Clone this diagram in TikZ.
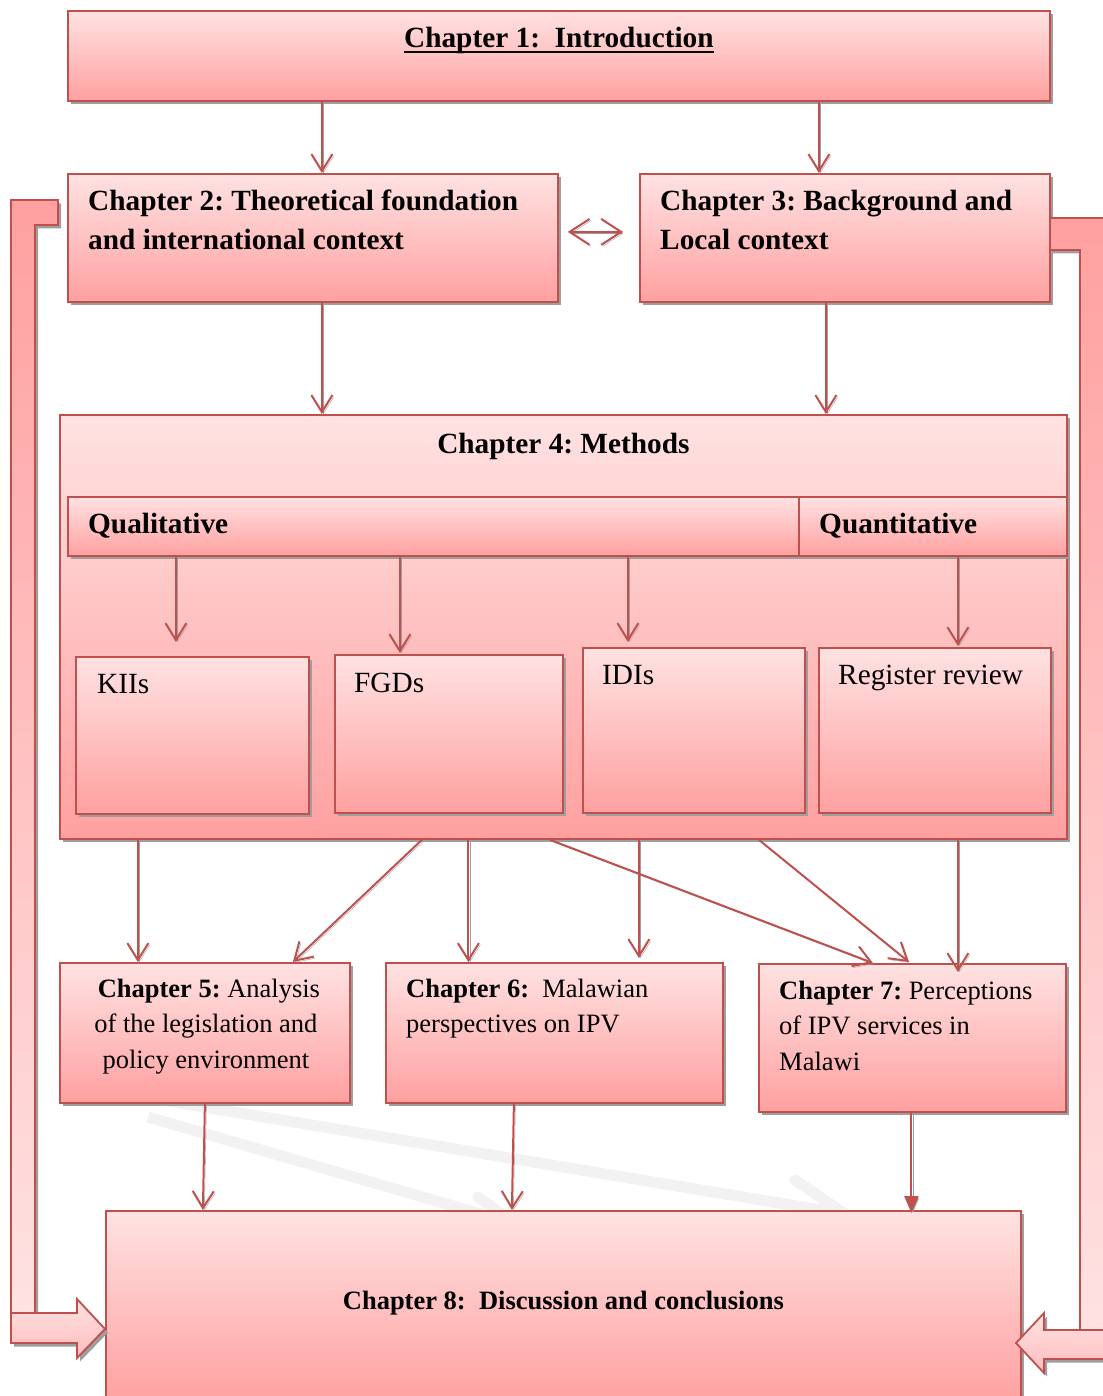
\documentclass[tikz,border=0pt]{standalone}
\usepackage{fontspec}
\setmainfont{Liberation Serif}
\usetikzlibrary{arrows.meta,shadows,calc}
\frenchspacing
\definecolor{edge}{RGB}{192,80,77}
\definecolor{pinkA}{RGB}{255,226,226}
\definecolor{pinkB}{RGB}{255,160,160}
\definecolor{pinkC}{RGB}{255,188,188}
\definecolor{shadowgray}{RGB}{158,158,158}
\definecolor{ghost}{RGB}{242,242,242}
\newcommand\bigf{\fontsize{29.3}{39}\selectfont}
\newcommand\medf{\fontsize{26.5}{35.5}\selectfont}
\tikzset{
  box/.style={rectangle, draw=edge, line width=1.8pt, top color=pinkA, bottom color=pinkB,
    inner sep=0pt, anchor=north west,
    drop shadow={shadow xshift=3pt, shadow yshift=-3.5pt, fill=shadowgray, opacity=1}},
  size/.style 2 args={minimum width=#1pt, minimum height=#2pt},
  txt/.style={inner sep=0pt, anchor=base west, text=black},
  conn/.style={draw=edge, line width=2pt,
    -{Straight Barb[length=17pt,width=21pt]},
    preaction={draw=shadowgray, transform canvas={shift={(1.5pt,-1.5pt)}}}},
  connfill/.style={draw=edge, line width=2pt,
    -{Triangle[length=17pt,width=14pt]},
    preaction={draw=shadowgray, transform canvas={shift={(1.5pt,-1.5pt)}}}},
  bothways/.style={draw=edge, line width=2pt,
    {Straight Barb[length=20pt,width=26pt]}-{Straight Barb[length=20pt,width=26pt]},
    preaction={draw=shadowgray, transform canvas={shift={(1.5pt,-1.5pt)}}}},
  bent/.style={draw=edge, line width=1.8pt,
    drop shadow={shadow xshift=3pt, shadow yshift=-3.5pt, fill=shadowgray, opacity=1}},
  ghostline/.style={draw=ghost, line width=11pt},
}
\begin{document}
\begin{tikzpicture}[x=1pt,y=-1pt]
\useasboundingbox (0,0) rectangle (1102,1396);

% faint background arrows
\coordinate (g1a) at (148,1117);
\coordinate (g1b) at (515,1224);
\coordinate (g1c) at (478,1197);
\coordinate (g2a) at (150,1098);
\coordinate (g2b) at (845,1214);
\coordinate (g2c) at (795,1180);
\draw[ghostline] (g1a) -- (g1b);
\draw[ghostline, line cap=round] (g1c) -- (g1b);
\draw[ghostline] (g2a) -- (g2b);
\draw[ghostline, line cap=round] (g2c) -- (g2b);

% chapter boxes
\node[box, size={982}{90}] (ch1) at (67,10) {};
\node[box, size={490}{128}] (ch2) at (67,173) {};
\node[box, size={410}{128}] (ch3) at (639,173) {};
\node[box, size={1007}{424}] (ch4) at (59,414) {};
\node[box, size={731}{59}] (qual) at (67,496) {};
\node[box, size={268}{59}] (quant) at (798,496) {};
\node[box, size={233}{157}] (kii) at (75,656) {};
\node[box, size={228}{158}] (fgd) at (334,654) {};
\node[box, size={222}{165}] (idi) at (582,647) {};
\node[box, size={232}{165}] (reg) at (818,647) {};
\node[box, size={290}{140}] (ch5) at (59,962) {};
\node[box, size={337}{140}] (ch6) at (385,962) {};
\node[box, size={307}{148}] (ch7) at (758,963) {};
\node[box, size={915}{190}] (ch8) at (105,1210) {};

% texts
\node[txt, anchor=base] (ch1t) at ($(ch1.north)+(0,38)$) {\bigf\bfseries Chapter 1:~~Introduction};
\draw[line width=1.6pt] ($(ch1t.base west)+(0,4)$) -- ($(ch1t.base east)+(0,4)$);
\node[txt] (ch2t) at ($(ch2.north west)+(21,38)$)
  {\bigf\bfseries\begin{tabular}[t]{@{}l@{}}Chapter 2: Theoretical foundation\\ and international context\end{tabular}};
\node[txt] (ch3t) at ($(ch3.north west)+(21,38)$)
  {\bigf\bfseries\begin{tabular}[t]{@{}l@{}}Chapter 3: Background and\\ Local context\end{tabular}};
\node[txt, anchor=base] (ch4t) at ($(ch4.north)+(0,39)$) {\bigf\bfseries Chapter 4: Methods};
\node[txt] (qualt) at ($(qual.north west)+(21,37)$) {\bigf\bfseries Qualitative};
\node[txt] (quantt) at ($(quant.north west)+(21,37)$) {\bigf\bfseries Quantitative};
\node[txt] (kiit) at ($(kii.north west)+(22,37)$) {\bigf KIIs};
\node[txt] (fgdt) at ($(fgd.north west)+(20,38)$) {\bigf FGDs};
\node[txt] (idit) at ($(idi.north west)+(20,37)$) {\bigf IDIs};
\node[txt] (regt) at ($(reg.north west)+(20,37)$) {\bigf Register review};
\node[txt, anchor=base] (ch5t) at ($(ch5.north)+(1,35)$)
  {\medf\begin{tabular}[t]{@{}c@{}}\hspace{6pt}\textbf{Chapter 5:} Analysis\\ of the legislation and\\ policy environment\end{tabular}};
\node[txt] (ch6t) at ($(ch6.north west)+(21,35)$)
  {\medf\begin{tabular}[t]{@{}l@{}}\textbf{Chapter 6:}~~Malawian\\ perspectives on IPV\end{tabular}};
\node[txt] (ch7t) at ($(ch7.north west)+(21,36)$)
  {\medf\begin{tabular}[t]{@{}l@{}}\textbf{Chapter 7:} Perceptions\\ of IPV services in\\ Malawi\end{tabular}};
\node[txt, anchor=base] (ch8t) at ($(ch8.north)+(0,99)$) {\medf\bfseries Chapter 8:~~Discussion and conclusions};

% connectors
\draw[conn] ($(ch2.north |- ch1.south)+(9,0)$) -- ($(ch2.north)+(9,0)$);
\draw[conn] ($(ch3.north |- ch1.south)+(-26,0)$) -- ($(ch3.north)+(-26,0)$);
\draw[bothways] ($(ch2.east)+(9,-6)$) -- ($(ch3.west)+(-16,-6)$);
\draw[conn] ($(ch2.south)+(9,0)$) -- ($(ch4.north -| ch2.south)+(9,0)$);
\draw[conn] ($(ch3.south)+(-19,0)$) -- ($(ch4.north -| ch3.south)+(-19,0)$);

\draw[conn] ($(qual.south -| kii.north)+(-16.5,0)$) -- ($(kii.north)+(-16.5,-14)$);
\draw[conn] ($(qual.south -| fgd.north)+(-49,0)$) -- ($(fgd.north)+(-49,-1)$);
\draw[conn] ($(qual.south -| idi.north)+(-66,0)$) -- ($(idi.north)+(-66,-5)$);
\draw[conn] ($(quant.south -| reg.north)+(23,0)$) -- ($(reg.north)+(23,-1)$);

\draw[conn] ($(ch4.south -| ch5.north)+(-67,0)$) -- ($(ch5.north)+(-67,0)$);
\draw[conn] ($(ch4.south)+(-141.5,0)$) -- ($(ch5.north)+(88,0)$);
\draw[conn] ($(ch4.south -| ch6.north)+(-86,0)$) -- ($(ch6.north)+(-86,0)$);
\draw[conn] ($(ch4.south -| ch6.north)+(84.5,0)$) -- ($(ch6.north)+(84.5,-4)$);
\draw[conn] ($(ch4.south)+(-13.5,0)$) -- ($(ch7.north)+(-39.5,0)$);
\draw[conn] ($(ch4.south)+(195.5,0)$) -- ($(ch7.north)+(-3.5,-1)$);
\draw[conn] ($(ch4.south -| ch7.north)+(45.5,0)$) -- ($(ch7.north)+(45.5,9)$);

\draw[conn] (ch5.south) -- ($(ch8.north)+(-360.5,0)$);
\draw[conn] ($(ch6.south)+(-40.5,0)$) -- ($(ch8.north)+(-51.5,0)$);
\draw[connfill] ($(ch7.south)+(-1,0)$) -- ($(ch8.north)+(348,3)$);

% feedback arrows from chapters 2 and 3 into chapter 8
\path[bent, top color=pinkB, bottom color=pinkA]
  (11,200) -- (58,200) -- (58,225) -- (35,225) -- (35,1313) -- (11,1313) -- cycle;
\path[bent, top color=pinkA, bottom color=pinkC]
  (11,1313) -- (77,1313) -- (77,1299) -- (105,1329) -- (77,1358) -- (77,1343) -- (11,1343) -- cycle;
\path[bent, top color=pinkB, bottom color=pinkA]
  (1050,218) -- (1108,218) -- (1108,1330) -- (1080,1330) -- (1080,250) -- (1050,250) -- cycle;
\path[bent, top color=pinkA, bottom color=pinkC]
  (1108,1330) -- (1044,1330) -- (1044,1313) -- (1016,1343) -- (1044,1373) -- (1044,1359) -- (1108,1359) -- cycle;
\end{tikzpicture}
\end{document}
